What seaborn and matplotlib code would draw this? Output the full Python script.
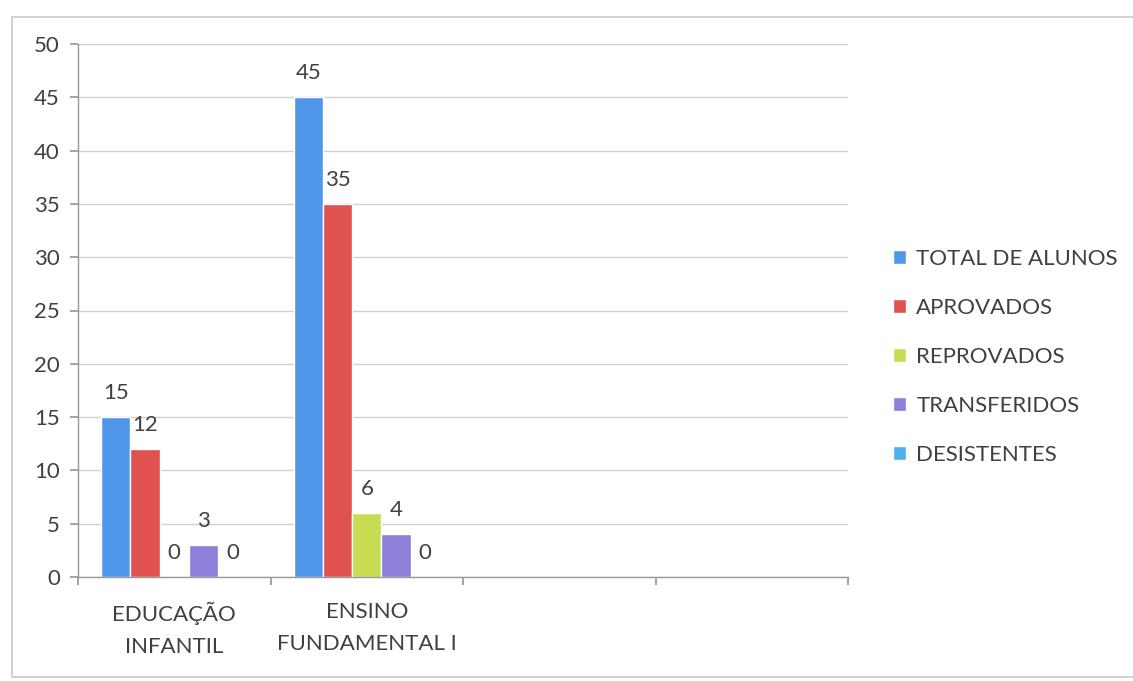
import matplotlib
matplotlib.use("Agg")
import matplotlib.pyplot as plt
import seaborn as sns
import pandas as pd
import numpy as np
from matplotlib.patches import Rectangle

categories = ["EDUCAÇÃO\nINFANTIL", "ENSINO\nFUNDAMENTAL I", " ", "  "]
series = ["TOTAL DE ALUNOS", "APROVADOS", "REPROVADOS", "TRANSFERIDOS", "DESISTENTES"]
values = {
    "TOTAL DE ALUNOS": [15, 45, np.nan, np.nan],
    "APROVADOS": [12, 35, np.nan, np.nan],
    "REPROVADOS": [0, 6, np.nan, np.nan],
    "TRANSFERIDOS": [3, 4, np.nan, np.nan],
    "DESISTENTES": [0, 0, np.nan, np.nan],
}
colors = ["#5097EA", "#E05252", "#C9DB52", "#8C80D8", "#4FB0EC"]
yticks = [0, 5, 10, 15, 20, 25, 30, 35, 40, 45, 50]

rows = []
for s in series:
    for c, v in zip(categories, values[s]):
        rows.append({"cat": c, "serie": s, "valor": v})
df = pd.DataFrame(rows)

sns.set_theme(style="white")
plt.rcParams["font.family"] = ["Lato", "DejaVu Sans"]

fs = 16
fig = plt.figure(figsize=(11.33, 6.81), dpi=100)
ax = fig.add_axes([78/1133, 1-577/681, (848-78)/1133, (577-44)/681])

sns.barplot(data=df, x="cat", y="valor", hue="serie", order=categories,
            hue_order=series, palette=colors, width=0.76, ax=ax,
            saturation=1, errorbar=None, legend=True)

txt = "#404040"
for cont in ax.containers:
    labs = []
    for v in cont.datavalues:
        labs.append("" if np.isnan(v) else f"{int(v)}")
    ax.bar_label(cont, labels=labs, padding=10, fontsize=fs, color=txt)

ax.set_ylim(0, 50)
ax.set_xlim(-0.5, 3.5)
ax.set_yticks(yticks)
ax.set_yticklabels([str(t) for t in yticks], fontsize=fs, color=txt)
ax.yaxis.grid(True, color="#D0D0D0", linewidth=1)
ax.set_axisbelow(True)
ax.set_xlabel("")
ax.set_ylabel("")

ax.set_xticks([-0.5, 0.5, 1.5, 2.5, 3.5])
ax.set_xticklabels([])
ax.set_xticks(range(len(categories)), minor=True)
ax.set_xticklabels(categories, minor=True, fontsize=fs, color=txt, linespacing=1.75)
ax.tick_params(axis="x", which="major", length=6, color="#999999", direction="out", bottom=True)
ax.tick_params(axis="x", which="minor", length=0, pad=18)
ax.tick_params(axis="y", length=6, color="#999999", direction="out", left=True, pad=7)

for side in ["top", "right"]:
    ax.spines[side].set_visible(False)
for side in ["left", "bottom"]:
    ax.spines[side].set_color("#999999")
    ax.spines[side].set_linewidth(1)

handles, labels = ax.get_legend_handles_labels()
ax.legend_.remove()
fig.legend(handles, labels, loc="upper left", bbox_to_anchor=(873/1133, 1-229/681),
           frameon=False, fontsize=fs, handlelength=0.6, handleheight=0.6,
           handletextpad=0.45, labelspacing=1.3, labelcolor=txt)

fig.patches.append(Rectangle((12/1133, 4/681), 1.2, (677-17)/681, transform=fig.transFigure,
                             fill=False, edgecolor="#C8C8C8", linewidth=1.2))

fig.savefig("out.png", dpi=100)
